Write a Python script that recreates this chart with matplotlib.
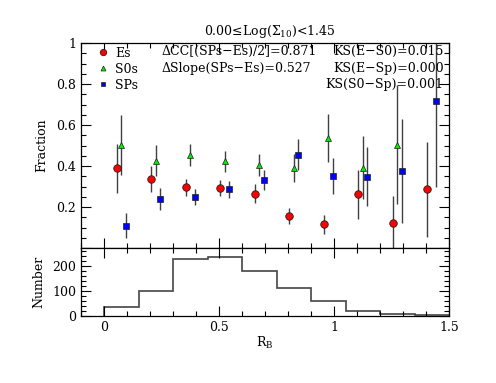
import numpy as np
import matplotlib
matplotlib.use("Agg")
import matplotlib.pyplot as plt
from matplotlib.ticker import MultipleLocator, FuncFormatter

plt.rcParams['font.family'] = ['DejaVu Serif']
plt.rcParams['mathtext.fontset'] = 'dejavuserif'

# ---- data ----
rb_centers = [0.075, 0.225, 0.375, 0.525, 0.675, 0.825, 0.975, 1.125, 1.275, 1.425]
es_frac = [0.389, 0.337, 0.296, 0.294, 0.265, 0.155, 0.116, 0.261, 0.124, 0.286]
es_err = [0.120, 0.065, 0.043, 0.040, 0.045, 0.040, 0.046, 0.120, 0.132, 0.230]
s0_frac = [0.503, 0.426, 0.454, 0.422, 0.405, 0.389, 0.538, 0.392, 0.503, np.nan]
s0_err = [0.145, 0.075, 0.053, 0.050, 0.054, 0.068, 0.117, 0.153, 0.290, np.nan]
sp_frac = [0.109, 0.239, 0.250, 0.286, 0.330, 0.456, 0.350, 0.348, 0.376, 0.717]
sp_err = [0.060, 0.053, 0.040, 0.040, 0.049, 0.076, 0.087, 0.143, 0.255, 0.418]

bin_edges = [0.0, 0.15, 0.30, 0.45, 0.60, 0.75, 0.90, 1.05, 1.20, 1.35, 1.50]
counts = [36, 102, 230, 236, 181, 113, 59, 22, 8, 5]

title_txt = "0.00≤Log($\\Sigma_{10}$)<1.45"
stats_left = ["ΔCC[(SPs−Es)/2]=0.871", "ΔSlope(SPs−Es)=0.527"]
stats_right = ["KS(E−S0)=0.015", "KS(E−Sp)=0.000", "KS(S0−Sp)=0.001"]

# ---- figure ----
W, H = 496, 383
fig = plt.figure(figsize=(W / 100, H / 100), dpi=100)
L, R = 81 / W, 449 / W
ax = fig.add_axes([L, 1 - 248 / H, R - L, 205 / H])
axh = fig.add_axes([L, 1 - 316 / H, R - L, 68 / H])

fs = 9
off = 0.02
xc = np.array(rb_centers)
err_kw = dict(fmt='none', ecolor='#404040', elinewidth=1.0, capsize=0, zorder=2)
ax.errorbar(xc - off, es_frac, yerr=es_err, **err_kw)
ax.errorbar(xc, s0_frac, yerr=s0_err, **err_kw)
ax.errorbar(xc + off, sp_frac, yerr=sp_err, **err_kw)
h1, = ax.plot(xc - off, es_frac, 'o', ms=5.4, mfc='#ff0000', mec='#202020', mew=0.6, ls='none', zorder=3, label='Es')
h2, = ax.plot(xc, s0_frac, '^', ms=4.2, mfc='#00ee00', mec='#202020', mew=0.5, ls='none', zorder=3, label='S0s')
h3, = ax.plot(xc + off, sp_frac, 's', ms=3.7, mfc='#0000ff', mec='#202020', mew=0.5, ls='none', zorder=3, label='SPs')

ax.legend(handles=[h1, h2, h3], loc='upper left', bbox_to_anchor=(0.036, 0.995),
          frameon=False, fontsize=fs, handlelength=1.0, handletextpad=0.5,
          labelspacing=0.25, borderaxespad=0.0, borderpad=0.2, markerscale=0.85)

ax.set_xlim(-0.1, 1.5)
ax.set_ylim(0, 1)
ax.text(0.513, 1.054, title_txt, transform=ax.transAxes, ha='center', va='center', fontsize=fs)
for i, t in enumerate(stats_left):
    ax.text(0.219, 0.958 - i * 0.08, t, transform=ax.transAxes, ha='left', va='center', fontsize=fs)
for i, t in enumerate(stats_right):
    ax.text(0.985, 0.958 - i * 0.08, t, transform=ax.transAxes, ha='right', va='center', fontsize=fs)

ax.set_ylabel('Fraction', fontsize=fs, labelpad=6)
ax.yaxis.set_major_locator(MultipleLocator(0.2))
ax.yaxis.set_minor_locator(MultipleLocator(0.05))
ax.yaxis.set_major_formatter(FuncFormatter(lambda v, p: '' if abs(v) < 1e-9 else f'{v:g}'))
ax.xaxis.set_major_locator(MultipleLocator(0.5))
ax.xaxis.set_minor_locator(MultipleLocator(0.1))
ax.tick_params(labelbottom=False)

axh.stairs(counts, bin_edges, baseline=0, color='#444444', lw=1.2)
axh.set_xlim(-0.1, 1.5)
axh.set_ylim(0, 272)
axh.yaxis.set_major_locator(MultipleLocator(100))
axh.yaxis.set_minor_locator(MultipleLocator(20))
axh.xaxis.set_major_locator(MultipleLocator(0.5))
axh.xaxis.set_minor_locator(MultipleLocator(0.1))
axh.xaxis.set_major_formatter(FuncFormatter(lambda v, p: f'{v:g}'))
axh.set_ylabel('Number', fontsize=fs, labelpad=5)
axh.set_xlabel('R$_\\mathrm{B}$', fontsize=fs, labelpad=1)

for a in (ax, axh):
    a.tick_params(which='both', direction='in', top=True, right=True, labelsize=fs, width=0.8)
    a.tick_params(which='major', length=7)
    a.tick_params(which='minor', length=3.5)
    for s in a.spines.values():
        s.set_linewidth(0.9)

fig.savefig('out.png', dpi=100)
